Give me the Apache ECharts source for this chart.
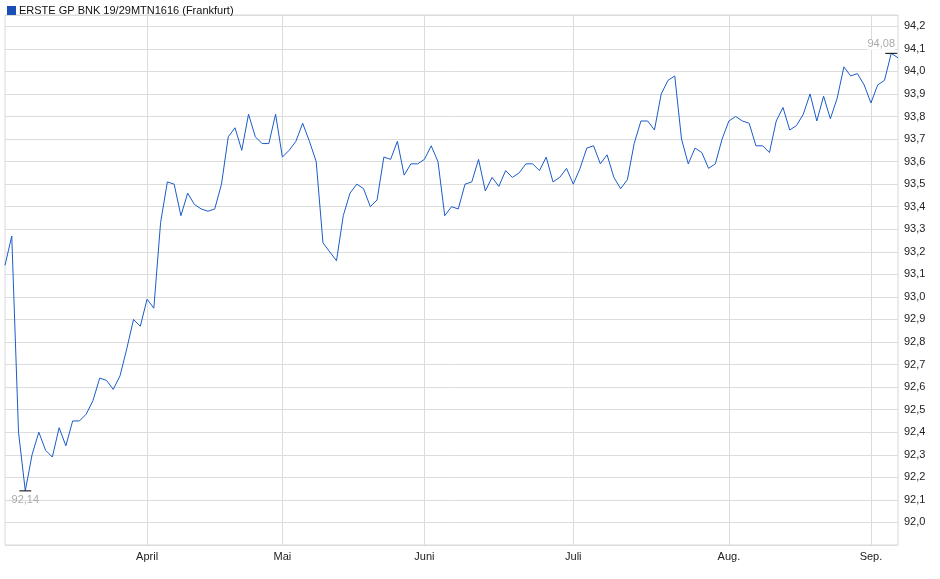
<!DOCTYPE html>
<html><head><meta charset="utf-8">
<script src="https://cdn.jsdelivr.net/npm/echarts@6/dist/echarts.min.js"></script>
<style>html,body{margin:0;padding:0;background:#fff}#c{width:940px;height:579px}</style>
</head><body><div id="c"></div>
<script>
const values = [93.14,93.27,92.40,92.14,92.30,92.40,92.32,92.29,92.42,92.34,92.45,92.45,92.48,92.54,
92.64,92.63,92.59,92.65,92.77,92.90,92.87,92.99,92.95,93.33,93.51,93.50,93.36,93.46,93.41,93.39,93.38,93.39,93.50,93.71,
93.75,93.65,93.81,93.71,93.68,93.68,93.81,93.62,93.65,93.69,93.77,93.69,93.60,
93.24,93.20,93.16,93.36,93.46,93.50,93.48,93.40,93.43,93.62,93.61,93.69,93.54,93.59,93.59,93.61,93.67,93.60,93.36,93.40,
93.39,93.50,93.51,93.61,93.47,93.53,93.49,93.56,93.53,93.55,93.59,93.59,93.56,93.62,93.51,93.53,93.57,93.50,93.57,93.66,
93.67,93.59,93.63,93.53,93.48,
93.52,93.68,93.78,93.78,93.74,93.90,93.96,93.98,93.70,93.59,93.66,93.64,93.57,93.59,93.70,93.78,93.80,93.78,93.77,93.67,
93.67,93.64,93.78,93.84,93.74,93.76,93.81,93.90,93.78,93.89,93.79,93.88,94.02,93.98,93.99,93.94,93.86,93.94,93.96,94.08,94.06];
const monthNames = ['April','Mai','Juni','Juli','Aug.','Sep.'];
const monthIdx = [21,41,62,84,107,128];
const seriesName = 'ERSTE GP BNK 19/29MTN1616 (Frankfurt)';
const cats = values.map((v,i)=>{const k=monthIdx.indexOf(i);return k>=0?monthNames[k]:'';});
const isMonth = i => monthIdx.indexOf(i)>=0;
const chart = echarts.init(document.getElementById('c'));
chart.setOption({
  animation:false,
  textStyle:{fontFamily:'Liberation Sans, Arial, sans-serif'},
  legend:{left:2,top:0,itemWidth:9,itemHeight:9,icon:'rect',itemGap:4,
    textStyle:{fontSize:11,color:'#111',padding:[0,0,0,-2]},data:[seriesName]},
  grid:{left:5,right:42,top:15,bottom:34,show:true,borderColor:'#d8d8d8',borderWidth:1},
  xAxis:{type:'category',data:cats,boundaryGap:false,
    axisLine:{show:false},axisTick:{show:false},
    axisLabel:{interval:(i)=>isMonth(i),color:'#222',fontSize:11,margin:6},
    splitLine:{show:true,interval:(i)=>isMonth(i),lineStyle:{color:'#dcdcdc'}}},
  yAxis:{type:'value',position:'right',min:91.9,max:94.25,interval:0.1,
    axisLine:{show:false},axisTick:{show:false},
    splitLine:{lineStyle:{color:'#dcdcdc'}},
    axisLabel:{color:'#222',fontSize:11,margin:6,showMaxLabel:false,showMinLabel:false,
      formatter:v=>v.toFixed(1).replace('.',',')}},
  series:[{name:seriesName,type:'line',data:values,symbol:'none',
    itemStyle:{color:'#1c4fb5'},lineStyle:{color:'#1a5cc8',width:1},
    markPoint:{symbol:'rect',symbolSize:[12,1],itemStyle:{color:'#000'},
      data:[
        {type:'min',label:{show:true,position:'bottom',distance:3,color:'#aaa',fontSize:11,formatter:p=>p.value.toFixed(2).replace('.',',')}},
        {type:'max',label:{show:true,position:'top',distance:3,offset:[-10,0],color:'#aaa',fontSize:11,backgroundColor:'#fff',formatter:p=>p.value.toFixed(2).replace('.',',')}}
      ]}}]
});
</script></body></html>
